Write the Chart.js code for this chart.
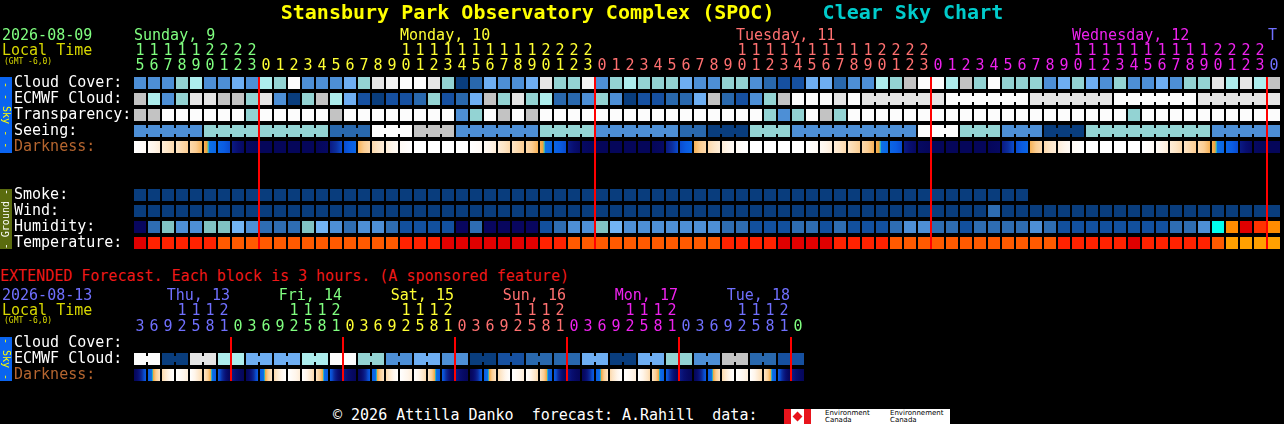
<!DOCTYPE html>
<html>
<head>
<meta charset="utf-8">
<title>Clear Sky Chart</title>
<script src="https://cdn.jsdelivr.net/npm/chart.js@4.4.1/dist/chart.umd.min.js"></script>
<style>
  html, body { margin: 0; padding: 0; background: #000; }
  body { position: relative; width: 1284px; height: 424px; overflow: hidden; font-family: "DejaVu Sans Mono", monospace; }
  canvas { position: absolute; left: 0; }
  .t { position: absolute; white-space: pre; line-height: 1; }
  .bar { position: absolute; left: 0; width: 12px; display: flex; align-items: center; justify-content: center; overflow: hidden; }
  .bar span { writing-mode: vertical-rl; font-size: 10px; line-height: 1; white-space: pre; }
</style>
</head>
<body>
<canvas id="main" width="1284" height="260" style="top:0"></canvas>
<canvas id="ext" width="1284" height="60" style="top:330px"></canvas>
<script>
// ---- main forecast: one column per hour ----
const mainHours = [
  15, 16, 17, 18, 19, 20, 21, 22, 23,
  0, 1, 2, 3, 4, 5, 6, 7, 8, 9, 10, 11, 12, 13, 14, 15, 16, 17, 18, 19, 20, 21, 22, 23,
  0, 1, 2, 3, 4, 5, 6, 7, 8, 9, 10, 11, 12, 13, 14, 15, 16, 17, 18, 19, 20, 21, 22, 23,
  0, 1, 2, 3, 4, 5, 6, 7, 8, 9, 10, 11, 12, 13, 14, 15, 16, 17, 18, 19, 20, 21, 22, 23,
  0
];
const mainDays = ['Sunday, 9', 'Monday, 10', 'Tuesday, 11', 'Wednesday, 12', 'T'];
const mainDayColors = ['#80ff80', '#ffff33', '#ff7070', '#ee22ee', '#7070ff'];

// cloud cover, percent
const cloudCover = [
  30, 30, 30, 50, 60, 30, 30, 40, 30,
  60, 50, 100, 30, 30, 30, 40, 50, 80, 90, 100, 100, 80, 50, 0, 20, 40, 30, 30, 40, 80, 50, 50, 90,
  30, 50, 60, 50, 50, 50, 40, 30, 30, 50, 50, 30, 20, 10, 10, 40, 40, 20, 30, 30, 60, 50, 70, 100,
  100, 60, 70, 50, 100, 50, 50, 50, 30, 40, 50, 40, 30, 50, 30, 30, 40, 30, 50, 50, 80, 60, 80, 60,
  70
];
const ecmwfCloud = [
  70, 60, 30, 50, 80, 80, 70, 70, 50,
  80, 30, 0, 50, 70, 60, 40, 10, 0, 10, 10, 20, 50, 10, 20, 40, 70, 50, 80, 50, 60, 20, 20, 30,
  50, 30, 0, 10, 10, 20, 20, 40, 70, 20, 10, 30, 50, 70, 100, 100, 100, 80, 100, 80, 80, 80, 80, 80,
  80, 100, 100, 100, 100, 100, 100, 80, 80, 80, 80, 80, 80, 100, 100, 100, 100, 100, 100, 80, 80, 80, 80, 80,
  80
];
const ecmwfThreeHourlyFrom = 52;
// transparency and seeing: colour class 0 (best) .. 10 (too cloudy)
const transparency = [
  7, 7, 10, 10, 10, 10, 10, 10, 5,
  10, 10, 10, 10, 10, 7, 10, 10, 10, 10, 10, 10, 10, 10, 3, 5, 10, 7, 10, 7, 10, 10, 10, 10,
  10, 10, 10, 10, 10, 10, 10, 10, 10, 10, 10, 10, 5, 3, 5, 10, 7, 5, 10, 10, 10, 10, 10, 10,
  10, 10, 10, 10, 10, 10, 10, 10, 10, 10, 10, 10, 10, 10, 5, 10, 10, 10, 10, 10, 10, 10, 10, 10,
  10
];
const seeing = [
  3, 3, 3, 3, 3, 5, 5, 5, 5,
  5, 5, 5, 5, 5, 2, 2, 2, 10, 10, 10, 7, 7, 7, 3, 3, 3, 3, 3, 3, 5, 5, 5, 5,
  3, 3, 3, 3, 3, 3, 2, 2, 0, 0, 0, 5, 5, 5, 3, 3, 3, 3, 3, 3, 3, 3, 3, 10,
  10, 10, 5, 5, 5, 3, 3, 3, 0, 0, 0, 5, 5, 5, 5, 5, 5, 5, 5, 5, 3, 3, 3, 3,
  3
];
// darkness: 0 daylight .. 8 full dark
const darkness = [
  0, 1, 2, 2.5, 3, 4, 5, 7, 8,
  8, 8, 8, 8, 8, 6, 5, 3, 2, 1, 0, 0, 0, 0, 0, 0, 1, 2, 2.5, 3, 4, 5, 7, 8,
  8, 8, 8, 8, 8, 6, 5, 3, 2, 1, 0, 0, 0, 0, 0, 0, 1, 2, 2.5, 3, 4, 5, 7, 8,
  8, 8, 8, 8, 8, 6, 5, 3, 2, 1, 0, 0, 0, 0, 0, 0, 1, 2, 2.5, 3, 4, 5, 7, 8,
  8
];
// smoke, ug/m3 (forecast stops early)
const smoke = [
  1, 1, 1, 1, 1, 1, 1, 1, 1,
  1, 1, 1, 1, 1, 1, 1, 1, 1, 1, 1, 1, 1, 1, 1, 1, 1, 1, 1, 1, 1, 1, 1, 1,
  1, 1, 1, 1, 1, 1, 1, 1, 1, 1, 1, 1, 1, 1, 1, 1, 1, 1, 1, 1, 1, 1, 1, 1,
  1, 1, 1, 1, 1, 1, 1
];
// wind, mph
const wind = [
  5, 5, 4, 4, 3, 3, 3, 2, 2,
  2, 2, 2, 2, 2, 2, 3, 3, 4, 4, 4, 5, 5, 5, 5, 5, 4, 4, 3, 3, 3, 2, 2, 2,
  2, 2, 2, 2, 2, 3, 3, 3, 4, 4, 5, 5, 5, 5, 5, 4, 4, 4, 3, 3, 3, 2, 2, 2,
  2, 2, 3, 3, 8, 4, 4, 4, 4, 5, 5, 5, 5, 5, 5, 5, 4, 4, 4, 3, 3, 3, 3, 3,
  3
];
// humidity, percent
const humidity = [
  20, 32, 47, 37, 37, 47, 47, 42, 37,
  32, 32, 32, 47, 42, 37, 32, 37, 37, 32, 27, 27, 27, 27, 20, 32, 20, 20, 20, 20, 27, 32, 37, 37,
  47, 42, 37, 37, 37, 37, 37, 37, 37, 32, 32, 27, 27, 27, 32, 32, 27, 32, 27, 27, 27, 32, 37, 37,
  32, 32, 27, 32, 32, 32, 32, 37, 32, 27, 27, 27, 27, 27, 27, 27, 27, 32, 32, 37, 82, 87, 97, 92,
  87
];
// temperature, F
const temperature = [
  87, 85, 84, 83, 81, 78, 76, 74, 73,
  72, 71, 70, 70, 69, 69, 70, 72, 74, 76, 79, 82, 85, 87, 88, 89, 89, 88, 87, 86, 83, 80, 76, 75,
  74, 73, 72, 71, 70, 70, 71, 72, 75, 78, 81, 83, 85, 87, 88, 88, 87, 85, 84, 81, 78, 76, 75, 74,
  73, 72, 71, 70, 70, 69, 70, 72, 74, 77, 80, 82, 84, 85, 86, 85, 84, 83, 81, 79, 74, 67, 66, 65,
  64
];

// ---- extended forecast: one column per 3 hours ----
const extHours = [
  3, 6, 9, 12, 15, 18, 21,
  0, 3, 6, 9, 12, 15, 18, 21,
  0, 3, 6, 9, 12, 15, 18, 21,
  0, 3, 6, 9, 12, 15, 18, 21,
  0, 3, 6, 9, 12, 15, 18, 21,
  0, 3, 6, 9, 12, 15, 18, 21,
  0
];
const extDays = ['Thu, 13', 'Fri, 14', 'Sat, 15', 'Sun, 16', 'Mon, 17', 'Tue, 18', ''];
const extDayColors = ['#7070ff', '#80ff80', '#ffff33', '#ff7070', '#ee22ee', '#7070ff', '#80ff80'];
// ECMWF cloud, percent, one value per 6 hour block
const extEcmwf = [100, 0, 80, 60, 40, 40, 60, 100, 50, 30, 40, 30, 0, 10, 20, 20, 40, 0, 40, 50, 30, 70, 20, 10];
const extDarkness = [
  6.5, 3.5, 1, 0, 1, 3.5, 6.5,
  8, 6.5, 3.5, 1, 0, 1, 3.5, 6.5,
  8, 6.5, 3.5, 1, 0, 1, 3.5, 6.5,
  8, 6.5, 3.5, 1, 0, 1, 3.5, 6.5,
  8, 6.5, 3.5, 1, 0, 1, 3.5, 6.5,
  8, 6.5, 3.5, 1, 0, 1, 3.5, 6.5,
  8
];

// ---- colours ----
const skyPalette = ['#093d7d', '#1650a0', '#2968ad', '#4d8fd6', '#6eaef2', '#93d3d3', '#adeded', '#c3c3c3', '#e5e5e5', '#f2f2f2', '#fcfcfc'];
const humidityBins = [[25, '#08065e'], [30, '#12509e'], [35, '#2e6db2'], [40, '#4d8fd6'], [45, '#72b4f4'], [50, '#80c2c2'], [85, '#00ffee'], [90, '#ff8c00'], [95, '#ff3300'], [101, '#e00000']];
const tempBins = [[68, '#ffa000'], [77, '#ff5a00'], [86, '#ff2200'], [200, '#e00000']];
const windBins = [[6, '#093d7d'], [12, '#2e6db2'], [99, '#4d8fd6']];
const smokeBins = [[2, '#093d7d'], [999, '#2e6db2']];
const darkRamp = [[0, '#ffffff'], [1, '#fff5ea'], [2, '#fde5c6'], [3, '#fbcd92'], [3.5, '#f7b256'], [3.75, '#eda23c'],
  [3.85, '#40c8b0'], [3.95, '#0c70e6'], [5, '#0a5ce2'], [5.5, '#0a4ccf'], [6, '#0c2e9c'], [6.5, '#0a1a84'],
  [7, '#080e70'], [7.5, '#060962'], [8, '#05065a']];

const binColor = (bins, v) => (bins.find(b => v < b[0]) || bins[bins.length - 1])[1];
const pct = v => skyPalette[Math.round(v / 10)];
const cls = v => skyPalette[v];

function hexRgb(h) {
  const n = parseInt(h.slice(1), 16);
  return [n >> 16, (n >> 8) & 255, n & 255];
}
function rampAt(v) {
  if (v <= darkRamp[0][0]) return darkRamp[0][1];
  for (let k = 1; k < darkRamp.length; k++) {
    if (v <= darkRamp[k][0]) {
      const [p0, c0] = darkRamp[k - 1], [p1, c1] = darkRamp[k];
      const t = (v - p0) / (p1 - p0), a = hexRgb(c0), b = hexRgb(c1);
      return 'rgb(' + a.map((x, j) => Math.round(x + (b[j] - x) * t)).join(',') + ')';
    }
  }
  return darkRamp[darkRamp.length - 1][1];
}
// twilight cells fade toward the darker neighbour
function darkFill(levels, w) {
  return (v, i, chart) => {
    const prev = levels[i - 1] ?? v, next = levels[i + 1] ?? v;
    const cx = chart.scales.x ? chart.scales.x.getPixelForValue(i + 0.5) : NaN;
    // elements are first reset before the layout exists
    if ((prev === v && next === v) || !isFinite(cx)) return rampAt(v);
    const up = next >= prev;
    const lo = Math.max(0, v - w), hi = Math.min(8, v + w);
    const g = chart.ctx.createLinearGradient(cx - 6, 0, cx + 6, 0);
    const pts = [lo, ...darkRamp.map(s => s[0]).filter(p => p > lo && p < hi), hi];
    pts.forEach(p => {
      const t = (p - lo) / (hi - lo);
      g.addColorStop(up ? t : 1 - t, rampAt(p));
    });
    return g;
  };
}

// ---- datasets ----
function cellSet(row, values, fill) {
  return {
    data: values.map((v, i) => ({ x: i + 0.5, y: [row, row + 0.75], v, i })),
    backgroundColor: c => c.raw ? fill(c.raw.v, c.raw.i, c.chart) : 'transparent',
    barThickness: 12, grouped: false, inflateAmount: 0, order: 2
  };
}
function joinSet(row, values, fill, canJoin) {
  const pts = [];
  for (let i = 0; i + 1 < values.length; i++) {
    if (canJoin(i)) pts.push({ x: i + 1, y: [row + 0.1875, row + 0.5625], v: values[i], i });
  }
  return {
    data: pts,
    backgroundColor: c => c.raw ? fill(c.raw.v, c.raw.i, c.chart) : 'transparent',
    barThickness: 2, grouped: false, inflateAmount: 0, order: 1
  };
}
function midnightSet(hours, rows) {
  const pts = [];
  hours.forEach((h, i) => { if (h === 0) pts.push({ x: i, y: [0, rows - 0.25] }); });
  return { data: pts, backgroundColor: '#f00', barThickness: 2, grouped: false, inflateAmount: 0, order: 0 };
}

function gridChart(id, cols, rows, padding, datasets) {
  return new Chart(document.getElementById(id), {
    type: 'bar',
    data: { datasets },
    options: {
      responsive: false,
      animation: false,
      events: [],
      layout: { padding },
      plugins: { legend: { display: false }, tooltip: { enabled: false } },
      scales: {
        x: { type: 'linear', min: 0, max: cols, display: false, offset: false, grid: { offset: false } },
        y: { type: 'linear', min: 0, max: rows, reverse: true, display: false }
      }
    }
  });
}

const main = gridChart('main', mainHours.length, 11, { left: 133, right: 3, top: 77, bottom: 7 }, [
  midnightSet(mainHours, 11),
  cellSet(0, cloudCover, pct),
  cellSet(1, ecmwfCloud, pct),
  joinSet(1, ecmwfCloud, pct, i => i >= ecmwfThreeHourlyFrom && ecmwfCloud[i] === ecmwfCloud[i + 1]),
  cellSet(2, transparency, cls),
  cellSet(3, seeing, cls),
  joinSet(3, seeing, cls, i => seeing[i] === seeing[i + 1]),
  cellSet(4, darkness, darkFill(darkness, 0.5)),
  cellSet(7, smoke, v => binColor(smokeBins, v)),
  cellSet(8, wind, v => binColor(windBins, v)),
  cellSet(9, humidity, v => binColor(humidityBins, v)),
  cellSet(10, temperature, v => binColor(tempBins, v))
]);

const extEcmwfCells = extEcmwf.flatMap(v => [v, v]);
const ext = gridChart('ext', extHours.length, 3, { left: 133, right: 479, top: 7, bottom: 5 }, [
  midnightSet(extHours, 3),
  cellSet(1, extEcmwfCells, pct),
  joinSet(1, extEcmwfCells, pct, i => i % 2 === 0),
  cellSet(2, extDarkness, darkFill(extDarkness, 1.5))
]);

// ---- text ----
function text(str, x, yc, color, size, extra) {
  const d = document.createElement('div');
  d.className = 't';
  d.textContent = str;
  d.style.left = x + 'px';
  d.style.top = (yc - size * 0.48) + 'px';
  d.style.fontSize = size + 'px';
  d.style.color = color;
  if (extra) Object.assign(d.style, extra);
  document.body.appendChild(d);
  return d;
}
function sideBar(chart, top, r0, r1, bg, str, color, flip) {
  const ys = chart.scales.y;
  const y0 = top + ys.getPixelForValue(r0), y1 = top + ys.getPixelForValue(r1 + 0.75);
  const b = document.createElement('div');
  b.className = 'bar';
  b.style.top = y0 + 'px';
  b.style.height = (y1 - y0) + 'px';
  b.style.background = bg;
  const s = document.createElement('span');
  s.textContent = str;
  s.style.color = color;
  if (flip) s.style.transform = 'rotate(180deg)';
  b.appendChild(s);
  document.body.appendChild(b);
}
function rowLabels(chart, top, labels) {
  labels.forEach(([str, r, color]) => {
    text(str, 14, top + chart.scales.y.getPixelForValue(r + 0.375) - 1, color || '#fff', 15);
  });
}
function hourLabels(chart, hours, days, colors, yDay, yTens, yUnits, dayRightAligned) {
  const xs = chart.scales.x;
  const firstCol = [], firstTens = [], lastTens = [];
  let d = 0;
  hours.forEach((h, i) => {
    if (h === 0 && i > 0) d++;
    const cx = xs.getPixelForValue(i + 0.5);
    const box = { width: '14px', textAlign: 'center' };
    if (firstCol[d] === undefined) firstCol[d] = i;
    if (h >= 10) {
      text(String(Math.floor(h / 10)), cx - 7, yTens, colors[d], 15, box);
      if (firstTens[d] === undefined) firstTens[d] = i;
      lastTens[d] = i;
    }
    text(String(h % 10), cx - 7, yUnits, colors[d], 15, box);
  });
  days.forEach((name, k) => {
    if (!name) return;
    if (dayRightAligned) {
      const right = xs.getPixelForValue(lastTens[k] + 0.5) + 6;
      text(name, right - 200, yDay, colors[k], 15, { width: '200px', textAlign: 'right' });
    } else {
      const col = firstTens[k] ?? firstCol[k];
      text(name, xs.getPixelForValue(col + 0.5) - 6, yDay, colors[k], 15);
    }
  });
}

const title = text('', 0, 12, '#ff0', 20, { width: '1284px', textAlign: 'center', fontWeight: 'bold' });
title.innerHTML = '<span style="color:#ffff00">Stansbury Park Observatory Complex (SPOC)</span>    <span style="color:#00cccc">Clear Sky Chart</span>';

text('2026-08-09', 2, 35, '#80ff80', 15);
text('Local Time', 2, 50, '#d8d800', 15);
text('(GMT -6,0)', 4, 61.5, '#d8d800', 8);
hourLabels(main, mainHours, mainDays, mainDayColors, 35, 50, 65, false);
rowLabels(main, 0, [
  ['Cloud Cover:', 0], ['ECMWF Cloud:', 1], ['Transparency:', 2], ['Seeing:', 3], ['Darkness:', 4, '#b5652f'],
  ['Smoke:', 7], ['Wind:', 8], ['Humidity:', 9], ['Temperature:', 10]
]);
sideBar(main, 0, 0, 4, '#0a64f0', '- - Sky - -', '#ffff00', false);
sideBar(main, 0, 7, 10, '#5a6b0e', '- Ground -', '#ffffff', true);

text('EXTENDED Forecast. Each block is 3 hours. (A sponsored feature)', 0, 276, '#f01818', 15);
text('2026-08-13', 2, 295, '#7070ff', 15);
text('Local Time', 2, 310, '#d8d800', 15);
text('(GMT -6,0)', 4, 321, '#d8d800', 8);
hourLabels(ext, extHours, extDays, extDayColors, 295, 310, 326, true);
rowLabels(ext, 330, [['Cloud Cover:', 0], ['ECMWF Cloud:', 1], ['Darkness:', 2, '#b5652f']]);
sideBar(ext, 330, 0, 2, '#0a64f0', '- Sky -', '#ffff00', false);

text('\u00a9 2026 Attilla Danko  forecast: A.Rahill  data:', 333, 415.5, '#ffffff', 15);

// Environment Canada badge
const ec = document.createElement('div');
ec.style.cssText = 'position:absolute;left:784px;top:409px;width:166px;height:15px;background:#fff;overflow:hidden';
ec.innerHTML =
  '<div style="position:absolute;left:0;top:0;width:7px;height:15px;background:#e8141c"></div>' +
  '<div style="position:absolute;left:20px;top:0;width:7px;height:15px;background:#e8141c"></div>' +
  '<div style="position:absolute;left:10px;top:4px;width:7px;height:7px;background:#e8141c;transform:rotate(45deg)"></div>' +
  '<div class="t" style="left:41px;top:1px;font:7px/7px \'DejaVu Sans\',sans-serif;color:#000">Environment\nCanada</div>' +
  '<div class="t" style="left:106px;top:1px;font:7px/7px \'DejaVu Sans\',sans-serif;color:#000">Environnement\nCanada</div>';
document.body.appendChild(ec);
</script>
</body>
</html>
